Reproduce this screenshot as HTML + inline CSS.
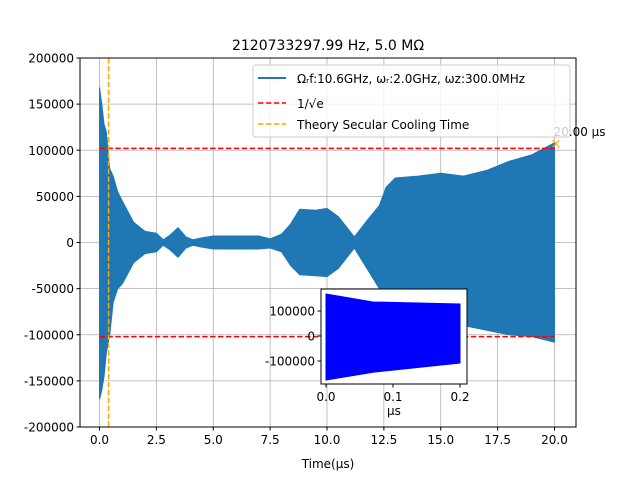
<!DOCTYPE html>
<html><head><meta charset="utf-8"><style>
body{margin:0;background:#fff;}
svg text{font-family:"DejaVu Sans","Liberation Sans",sans-serif;}
</style></head><body>
<svg id="c" width="640" height="480" xmlns="http://www.w3.org/2000/svg"></svg>
<script>
const times=[0,0.1,0.2,0.3,0.45,0.6,0.8,1.0,1.5,2.0,2.5,2.8,3.1,3.45,3.8,4.1,4.5,5,6,7,7.5,8,8.4,8.8,9.5,10,10.5,11.2,11.8,12.3,12.6,13,14,15,16,17,18,19,20];
const upper=[168,150,128,120,80,72,55,45,22,12,10,3,8,16,6,3,5,7,7,7,4,9,20,36,35,37,28,6,25,40,60,70,72,75,72,78,88,95,108];
const lower=[-170,-160,-145,-120,-100,-65,-50,-45,-22,-12,-10,-3,-8,-16,-6,-3,-5,-7,-7,-7,-6,-10,-25,-35,-36,-37,-28,-6,-30,-50,-65,-75,-80,-85,-90,-95,-100,-102,-108];
const insetT=[0,0.07,0.2];
const insetUp=[168,136,128];
const insetLo=[-176,-145,-108];
const xTicks=[0,2.5,5,7.5,10,12.5,15,17.5,20];
const xTickLabels=["0.0","2.5","5.0","7.5","10.0","12.5","15.0","17.5","20.0"];
const yTicks=[-200000,-150000,-100000,-50000,0,50000,100000,150000,200000];
const thresh=102000, cooling=0.4;
const NS="http://www.w3.org/2000/svg",svg=document.getElementById('c');
function el(t,a,p){const e=document.createElementNS(NS,t);for(const k in a)e.setAttribute(k,a[k]);(p||svg).appendChild(e);return e;}
const L=80,R=576,T=58,B=427;
const X=t=>99.5+t*22.75, Y=v=>242.5-v*(369/400000);
xTicks.forEach((t,i)=>{el('line',{x1:X(t),x2:X(t),y1:T,y2:B,stroke:'#b0b0b0','stroke-width':0.8});
 el('line',{x1:X(t),x2:X(t),y1:B,y2:B+3.5,stroke:'#000'});
 const tx=el('text',{x:X(t),y:B+17,'font-size':12,'text-anchor':'middle'});tx.textContent=xTickLabels[i];
 
 });
yTicks.forEach(v=>{el('line',{x1:L,x2:R,y1:Y(v),y2:Y(v),stroke:'#b0b0b0','stroke-width':0.8});
 el('line',{x1:L-3.5,x2:L,y1:Y(v),y2:Y(v),stroke:'#000'});
 const tx=el('text',{x:L-6,y:Y(v)+4.5,'font-size':12,'text-anchor':'end'});tx.textContent=v;
 
 });
let pts=times.map((t,i)=>X(t)+','+Y(upper[i]*1000));
for(let i=times.length-1;i>=0;i--)pts.push(X(times[i])+','+Y(lower[i]*1000));
const env=el('polygon',{points:pts.join(' '),fill:'#1f77b4',stroke:'#1f77b4','stroke-width':1});


[thresh,-thresh].forEach(v=>{const l=el('line',{x1:X(0),x2:X(20),y1:Y(v),y2:Y(v),stroke:'red','stroke-width':1.5,'stroke-dasharray':'5.5,2.4'});
 
 });
const cl=el('line',{x1:X(cooling),x2:X(cooling),y1:T,y2:B,stroke:'orange','stroke-width':1.5,'stroke-dasharray':'5.5,2.4'});


el('text',{x:X(20)-4,y:Y(upper[upper.length-1]*1000)+5,'font-size':13,fill:'orange'}).textContent='×';
const an=el('text',{x:X(20)-1,y:Y(upper[upper.length-1]*1000)-7,'font-size':12});an.textContent='20.00 μs';


el('rect',{x:L,y:T,width:R-L,height:B-T,fill:'none',stroke:'#000','stroke-width':1});
const ti=el('text',{x:328,y:50,'font-size':14,'text-anchor':'middle'});ti.textContent='2120733297.99 Hz, 5.0 MΩ';


const xl=el('text',{x:328,y:468,'font-size':12,'text-anchor':'middle'});xl.textContent='Time(μs)';


const lg=el('g',{});


el('rect',{x:253,y:65,width:317,height:72,rx:3,fill:'#fff','fill-opacity':0.8,stroke:'#ccc'},lg);
el('line',{x1:258,x2:286,y1:78,y2:78,stroke:'#1f77b4','stroke-width':2},lg);
el('text',{x:297,y:83,'font-size':12},lg).textContent='Ωᵣf:10.6GHz, ωᵣ:2.0GHz, ωz:300.0MHz';
el('line',{x1:258,x2:286,y1:103,y2:103,stroke:'red','stroke-width':1.5,'stroke-dasharray':'5.5,2.4'},lg);
el('text',{x:297,y:108,'font-size':12},lg).textContent='1/√e';
el('line',{x1:258,x2:286,y1:124,y2:124,stroke:'orange','stroke-width':1.5,'stroke-dasharray':'5.5,2.4'},lg);
el('text',{x:297,y:129,'font-size':12},lg).textContent='Theory Secular Cooling Time';
const IX=t=>326+t*670, IY=v=>336-v*0.00025;
const ig=el('g',{});


el('rect',{x:321,y:289,width:146,height:95,fill:'#fff'},ig);
let ip=insetT.map((t,i)=>IX(t)+','+IY(insetUp[i]*1000));
for(let i=insetT.length-1;i>=0;i--)ip.push(IX(insetT[i])+','+IY(insetLo[i]*1000));
const ipoly=el('polygon',{points:ip.join(' '),fill:'blue',stroke:'blue'},ig);


el('rect',{x:321,y:289,width:146,height:95,fill:'none',stroke:'#000'},ig);
[0,0.1,0.2].forEach(t=>{el('line',{x1:IX(t),x2:IX(t),y1:384,y2:387.5,stroke:'#000'},ig);
 el('text',{x:IX(t),y:401,'font-size':12,'text-anchor':'middle'},ig).textContent=t.toFixed(1);});
[100000,0,-100000].forEach(v=>{el('line',{x1:317.5,x2:321,y1:IY(v),y2:IY(v),stroke:'#000'},ig);
 el('text',{x:315,y:IY(v)+4.5,'font-size':12,'text-anchor':'end'},ig).textContent=v;});
el('text',{x:394,y:415,'font-size':12,'text-anchor':'middle'},ig).textContent='μs';
</script>
</body></html>
